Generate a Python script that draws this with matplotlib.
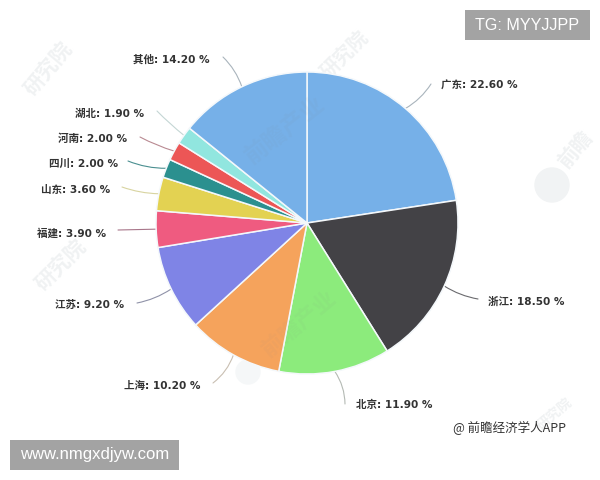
import matplotlib
matplotlib.use("Agg")
import matplotlib.pyplot as plt
import numpy as np

plt.rcParams['font.family'] = ['DejaVu Sans', 'Noto Sans CJK SC']

regions = ['广东', '浙江', '北京', '上海', '江苏', '福建', '山东', '四川', '河南', '湖北', '其他']
shares = [22.6, 18.5, 11.9, 10.2, 9.2, 3.9, 3.6, 2.0, 2.0, 1.9, 14.2]
colors = ['#76b0e8', '#434246', '#8ceb7c', '#f5a35c', '#7f84e6', '#ef5b80',
          '#e3d252', '#2b908f', '#ec5656', '#91e6df', '#76b0e8']
line_colors = ['#a9b4bc', '#6a6a6e', '#b4bab4', '#c9bfb2', '#8f92a8', '#a8768a',
               '#d8d4a0', '#4a8f90', '#b98a92', '#c4d6d4', '#a9b4bc']
# label anchor (px from left, px from top)
label_pos = [(441, 86), (488, 302), (356, 405), (124, 386),
             (55, 305), (37, 233), (41, 190), (49, 164),
             (58, 139), (75, 114), (133, 60)]
line_end = [(431, 84), (478, 299), (345, 404), (213, 383), (137, 303), (118, 230),
            (122, 187), (128, 161), (140, 137), (157, 111), (223, 57)]
bends = [0.12, 0.1, -0.15, -0.15, -0.1, 0, -0.08, -0.1, -0.05, -0.03, 0.12]

W, H = 600, 480
fig = plt.figure(figsize=(6, 4.8), dpi=100, facecolor='white')
ax = fig.add_axes([0, 0, 1, 1])
ax.set_xlim(0, W)
ax.set_ylim(0, H)
ax.axis('off')


def Y(py):
    return H - py


# faint watermarks
marks = [(48, 68, 50, '研究院', 15), (345, 55, 45, '研究院', 14),
         (575, 150, 50, '前瞻', 15), (60, 265, 45, '研究院', 15),
         (555, 415, 40, '研究院', 10)]
for x, y, rot, s, fs in marks:
    ax.text(x, Y(y), s, rotation=rot, fontsize=fs, color='#f0f2f3', ha='center', va='center', zorder=1,
            fontweight='bold', family=['Noto Sans CJK SC'])
ax.add_patch(plt.Circle((552, Y(185)), 17, color='#f1f3f4', zorder=1))
ax.add_patch(plt.Circle((248, Y(372)), 12, color='#f5f7f8', zorder=1))

wedges, _ = ax.pie(shares, colors=colors, center=(307, Y(223)), radius=151, startangle=90,
                   counterclock=False, frame=True,
                   wedgeprops=dict(edgecolor='#f4f8fb', linewidth=1.1, zorder=3))
ax.set_xlim(0, W)
ax.set_ylim(0, H)
ax.set_aspect('equal')
ax.axis('off')

# watermarks across the pie
for x, y, rot, s, fs in [(285, 130, 38, '前瞻产业', 17), (300, 325, 40, '前瞻产业', 16)]:
    ax.text(x, Y(y), s, rotation=rot, fontsize=fs, color='#888888', alpha=0.06, ha='center', va='center',
            zorder=4, fontweight='bold', family=['Noto Sans CJK SC'])

for w, r, v, lc, lp, le, b in zip(wedges, regions, shares, line_colors, label_pos, line_end, bends):
    a = np.deg2rad((w.theta1 + w.theta2) / 2)
    start = (307 + 151 * np.cos(a), Y(223) + 151 * np.sin(a))
    ax.annotate('', xy=(le[0], Y(le[1])), xytext=start,
                arrowprops=dict(arrowstyle='-', color=lc, lw=0.8,
                                connectionstyle=f'arc3,rad={b}', shrinkA=0, shrinkB=0),
                zorder=2)
    ax.text(lp[0], Y(lp[1]), f'{r}: {v:.2f} %', fontsize=7.6, fontweight='bold', color='#333333',
            ha='left', va='center', zorder=5)

ax.text(453, Y(428), '@ 前瞻经济学人APP', fontsize=9, color='#333333', ha='left', va='center', zorder=5,
        family=['Noto Sans CJK SC'])

ax.add_patch(plt.Rectangle((465, Y(40)), 125, 30, facecolor='#a3a3a3', edgecolor='none', zorder=6))
ax.text(527.5, Y(25), 'TG: MYYJJPP', fontsize=11.6, color='white', ha='center', va='center', zorder=7,
        family=['Liberation Sans'])
ax.add_patch(plt.Rectangle((10, Y(470)), 169, 30, facecolor='#a3a3a3', edgecolor='none', zorder=6))
ax.text(94.5, Y(455), 'www.nmgxdjyw.com', fontsize=12, color='white', ha='center', va='center', zorder=7,
        family=['Liberation Sans'])

fig.savefig('out.png', dpi=100, facecolor='white')
